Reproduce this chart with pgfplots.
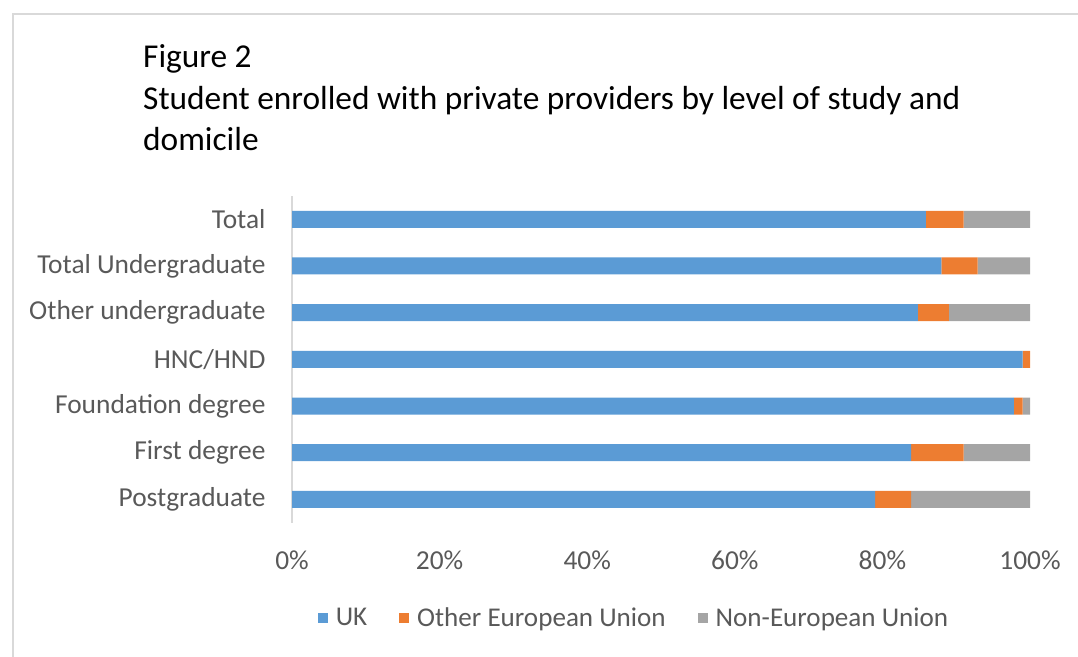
\documentclass[border=0pt]{standalone}
\usepackage{pgfplots}
\pgfplotsset{compat=1.18}
\usepackage{pgfplotstable}
\usepackage{fontspec}
\setmainfont{Carlito}
\definecolor{ukblue}{HTML}{5B9BD5}
\definecolor{euorange}{HTML}{ED7D31}
\definecolor{negray}{HTML}{A5A5A5}
\definecolor{txtgray}{HTML}{595959}
\definecolor{linegray}{HTML}{D9D9D9}
\pgfplotstableread{
idx UK EU NonEU
0 79.0 4.9 16.1
1 83.9 7.1 9.0
2 97.8 1.2 1.0
3 99.0 1.0 0.0
4 84.8 4.2 11.0
5 88.0 4.9 7.1
6 85.9 5.1 9.0
}\datatable
\begin{document}
\begin{tikzpicture}[x=1bp,y=1bp]
\path[use as bounding box] (0,0) rectangle (1078,657);
\draw[linegray, line width=2bp] (13,0) -- (13,643) -- (1078,643);
\node[anchor=base west, inner sep=0pt, font=\fontsize{33.5}{40}\selectfont] at (143,657-68) {Figure 2};
\node[anchor=base west, inner sep=0pt, font=\fontsize{33.5}{40}\selectfont] at (143,657-110) {Student enrolled with private providers by level of study and};
\node[anchor=base west, inner sep=0pt, font=\fontsize{33.5}{40}\selectfont] at (143,657-151) {domicile};
\begin{axis}[
  at={(292bp,134.3bp)}, anchor=south west,
  scale only axis, width=738bp, height=326.7bp,
  xbar stacked, bar width=17bp,
  xmin=0, xmax=100, ymin=-0.5, ymax=6.5,
  xtick={0,20,40,60,80,100},
  xticklabels={0\%,20\%,40\%,60\%,80\%,100\%},
  ytick={0,1,2,3,4,5,6},
  yticklabels={Postgraduate,First degree,Foundation degree,HNC/HND,Other undergraduate,Total Undergraduate,Total},
  major tick length=0pt,
  axis line style={draw=none},
  tick label style={font=\fontsize{27.5}{33}\selectfont, text=txtgray},
  xticklabel style={yshift=-25bp},
  yticklabel style={xshift=-23bp},
  /pgf/number format/assume math mode=true,
  legend columns=3,
  legend style={draw=none, fill=none, at={(0.4634,-0.2917)}, anchor=center,
    font=\fontsize{27.2}{33}\selectfont, text=txtgray,
    /tikz/every odd column/.append style={column sep=6bp},
    /tikz/every even column/.append style={column sep=30bp}},
  legend image code/.code={\fill[#1] (0bp,-5bp) rectangle (10bp,5bp);},
  clip=false,
]
\addplot[fill=ukblue, draw=none] table[x=UK, y=idx] {\datatable};
\addplot[fill=euorange, draw=none] table[x=EU, y=idx] {\datatable};
\addplot[fill=negray, draw=none] table[x=NonEU, y=idx] {\datatable};
\legend{UK,Other European Union,Non-European Union}
\draw[linegray, line width=1.5bp] (axis cs:0,-0.5) -- (axis cs:0,6.5);
\end{axis}
\end{tikzpicture}
\end{document}
